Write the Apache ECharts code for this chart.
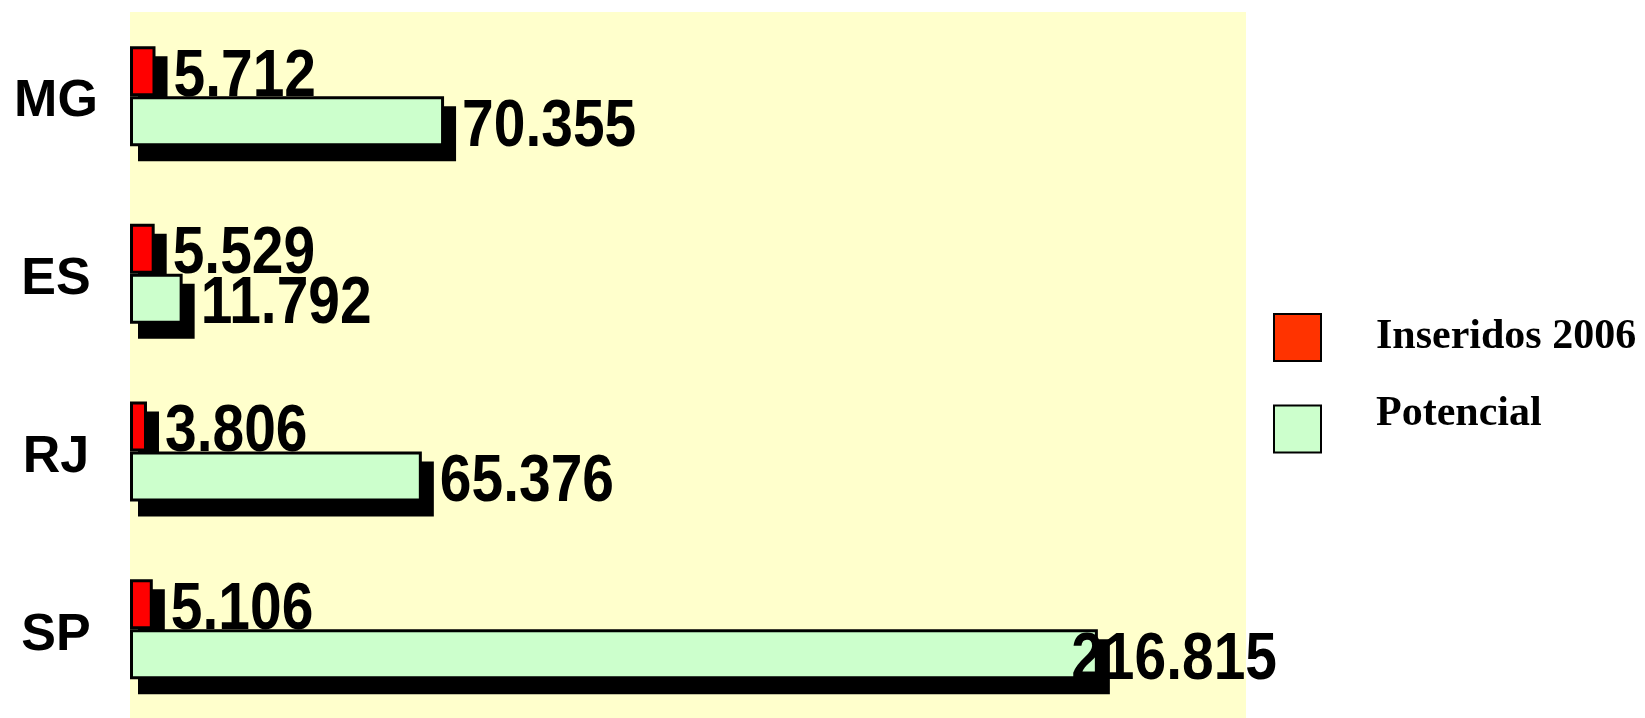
<!DOCTYPE html>
<html>
<head>
<meta charset="utf-8">
<title>Inseridos 2006 x Potencial</title>
<script src="https://cdn.jsdelivr.net/npm/echarts@6/dist/echarts.min.js"></script>
<style>
  html, body { margin: 0; padding: 0; background: #fff; }
  #chart { width: 1645px; height: 718px; }
</style>
</head>
<body>
<div id="chart"></div>
<script>
// dados
const estados = ['MG', 'ES', 'RJ', 'SP'];
const inseridos2006 = [5.712, 5.529, 3.806, 5.106];
const potencial = [70.355, 11.792, 65.376, 216.815];
const seriesNames = ['Inseridos 2006', 'Potencial'];

const BAR_W = 50;
const LABEL_FONT = 'bold 67px "Liberation Sans", Arial, sans-serif';
const LABEL_SCALE_X = 0.85;
const LABEL_MAX_RIGHT = 1277;

// formato brasileiro: 70.355
const fmt = v => v.toFixed(3);

const measureCtx = document.createElement('canvas').getContext('2d');
measureCtx.font = LABEL_FONT;

const chart = echarts.init(document.getElementById('chart'));

// sombra preta atrás de cada barra (side -1: barra de cima, 1: barra de baixo)
function shadowSeries(values, side) {
  return {
    type: 'custom',
    silent: true,
    z: 1,
    data: values.map((v, i) => [v, i]),
    encode: { x: 0, y: 1 },
    renderItem: function (params, api) {
      const end = api.coord([api.value(0), api.value(1)]);
      const start = api.coord([0, api.value(1)]);
      const top = side < 0 ? end[1] - BAR_W : end[1];
      return {
        type: 'rect',
        shape: {
          x: start[0] + 8,
          y: top + 10,
          width: end[0] + 12 - (start[0] + 8),
          height: BAR_W + 5
        },
        style: { fill: '#000' }
      };
    }
  };
}

// rótulos de valor desenhados pelas escalas do gráfico
function labelSeries(values, side) {
  return {
    type: 'custom',
    silent: true,
    z: 5,
    data: values.map((v, i) => [v, i]),
    encode: { x: 0, y: 1 },
    renderItem: function (params, api) {
      const v = api.value(0);
      const end = api.coord([v, api.value(1)]);
      const text = fmt(v);
      const w = measureCtx.measureText(text).width * LABEL_SCALE_X;
      let x = end[0] + 18;
      if (x + w > LABEL_MAX_RIGHT) x = LABEL_MAX_RIGHT - w;
      const y = end[1] + side * BAR_W / 2 + 6;
      return {
        type: 'text',
        x: x,
        y: y,
        scaleX: LABEL_SCALE_X,
        style: {
          text: text,
          font: LABEL_FONT,
          fill: '#000',
          align: 'left',
          verticalAlign: 'middle'
        }
      };
    }
  };
}

const barStyle = {
  borderColor: '#000',
  borderWidth: 3
};

chart.setOption({
  animation: false,
  graphic: [{
    type: 'rect',
    left: 130,
    top: 12,
    z: -10,
    shape: { width: 1116, height: 706 },
    style: { fill: '#FFFFCC' }
  }],
  grid: { left: 130, width: 1116, top: 7.3, height: 715.5, containLabel: false },
  xAxis: {
    type: 'value',
    min: 0,
    max: 250,
    show: false
  },
  yAxis: {
    type: 'category',
    data: estados,
    inverse: true,
    axisLine: { show: false },
    axisTick: { show: false },
    splitLine: { show: false },
    axisLabel: {
      margin: 74,
      align: 'center',
      formatter: v => '{s|}\n{t|' + v + '}',
      rich: {
        s: { height: 12, lineHeight: 12 },
        t: {
          fontFamily: '"Liberation Sans", Arial, sans-serif',
          fontWeight: 'bold',
          fontSize: 52,
          color: '#000'
        }
      }
    }
  },
  legend: {
    orient: 'vertical',
    left: 1273,
    top: 313,
    padding: 0,
    itemWidth: 47,
    itemHeight: 47,
    itemGap: 31,
    icon: 'rect',
    selectedMode: false,
    itemStyle: {
      borderColor: '#000',
      borderWidth: 2
    },
    formatter: function (name) {
      return name === seriesNames[1] ? '{t|' + name + '}\n{s|}' : '{t|' + name + '}';
    },
    textStyle: {
      rich: {
        t: {
          fontFamily: '"Liberation Serif", "Times New Roman", serif',
          fontWeight: 'bold',
          fontSize: 42,
          color: '#000',
          padding: [0, 0, 0, 50]
        },
        s: { height: 30, lineHeight: 30 }
      }
    },
    data: [
      { name: seriesNames[0], itemStyle: { color: '#FF3300' } },
      { name: seriesNames[1], itemStyle: { color: '#CCFFCC' } }
    ]
  },
  series: [
    {
      name: seriesNames[0],
      type: 'bar',
      data: inseridos2006,
      barWidth: BAR_W,
      barGap: '0%',
      itemStyle: Object.assign({ color: '#FF0000' }, barStyle)
    },
    {
      name: seriesNames[1],
      type: 'bar',
      data: potencial,
      barWidth: BAR_W,
      barGap: '0%',
      itemStyle: Object.assign({ color: '#CCFFCC' }, barStyle)
    },
    shadowSeries(inseridos2006, -1),
    shadowSeries(potencial, 1),
    labelSeries(inseridos2006, -1),
    labelSeries(potencial, 1)
  ]
});
</script>
</body>
</html>
